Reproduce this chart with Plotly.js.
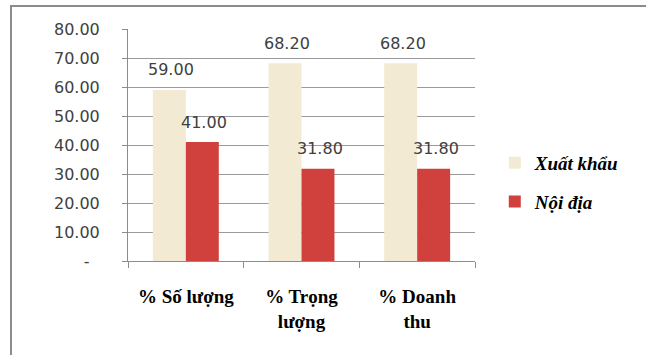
<!DOCTYPE html>
<html>
<head>
<meta charset="utf-8">
<script src="https://cdn.plot.ly/plotly-3.0.1.min.js"></script>
<style>
  html, body { margin: 0; padding: 0; background: #ffffff; }
  #wrap { position: relative; width: 646px; height: 355px; overflow: hidden; }
  #frame { position: absolute; left: 10px; top: 5px; width: 700px; height: 400px;
           border-left: 2px solid #8c8c8c; border-top: 2px solid #8c8c8c; box-sizing: border-box; }
  #chart { position: absolute; left: 0; top: 0; width: 646px; height: 355px; }
</style>
</head>
<body>
<div id="wrap">
  <div id="frame"></div>
  <div id="chart"></div>
</div>
<script>
const categories = ["% Số lượng", "% Trọng<br>lượng", "% Doanh<br>thu"];
const seriesNames = ["Xuất khẩu", "Nội địa"];
const xuatKhau = [59.00, 68.20, 68.20];
const noiDia = [41.00, 31.80, 31.80];
const yTickVals = [0, 10, 20, 30, 40, 50, 60, 70, 80];
const yTickText = ["-\u00a0\u00a0", "10.00", "20.00", "30.00", "40.00", "50.00", "60.00", "70.00", "80.00"];

const colors = ["#F2EAD2", "#D0403C"];
const seriesValues = [xuatKhau, noiDia];
const labelShift = [-14.5, 18.5];

const traces = seriesValues.map((vals, i) => ({
  type: "bar",
  name: seriesNames[i],
  x: categories,
  y: vals,
  marker: { color: colors[i] },
  legendgroup: "g" + i,
  hoverinfo: "none"
}));

const annotations = [];
seriesValues.forEach((vals, i) => {
  vals.forEach((v, j) => {
    annotations.push({
      x: categories[j], y: v, xref: "x", yref: "y",
      text: v.toFixed(2), showarrow: false,
      xanchor: "center", yanchor: "middle",
      xshift: labelShift[i], yshift: 20,
      font: { family: "DejaVu Sans", size: 16, color: "#404040" }
    });
  });
});

const layout = {
  width: 646, height: 355,
  paper_bgcolor: "rgba(0,0,0,0)",
  plot_bgcolor: "rgba(0,0,0,0)",
  margin: { l: 128, r: 171, t: 29, b: 94 },
  barmode: "group",
  bargap: 0.43,
  bargroupgap: 0,
  showlegend: true,
  legend: {
    x: 1.057, xanchor: "left", y: 0.505, yanchor: "top",
    traceorder: "grouped", tracegroupgap: 11,
    itemwidth: 30,
    font: { family: "Liberation Serif", size: 19, color: "#000000", weight: "bold", style: "italic" },
    bgcolor: "rgba(0,0,0,0)"
  },
  xaxis: {
    type: "category",
    tickson: "boundaries",
    ticks: "outside", ticklen: 6, tickcolor: "#8c8c8c",
    showline: true, linecolor: "#8c8c8c", linewidth: 1,
    showgrid: false,
    ticklabelstandoff: 18,
    tickfont: { family: "Liberation Serif", size: 19, color: "#000000", weight: "bold" }
  },
  yaxis: {
    range: [0, 80],
    tickvals: yTickVals, ticktext: yTickText,
    ticks: "outside", ticklen: 5, tickcolor: "#8c8c8c",
    showline: true, linecolor: "#8c8c8c", linewidth: 1,
    showgrid: true, gridcolor: "#9a9a9a", gridwidth: 1,
    zeroline: false,
    ticklabelstandoff: 19,
    tickfont: { family: "DejaVu Sans", size: 16, color: "#404040" }
  },
  annotations: annotations
};

Plotly.newPlot("chart", traces, layout, { staticPlot: true, displayModeBar: false });
</script>
</body>
</html>
